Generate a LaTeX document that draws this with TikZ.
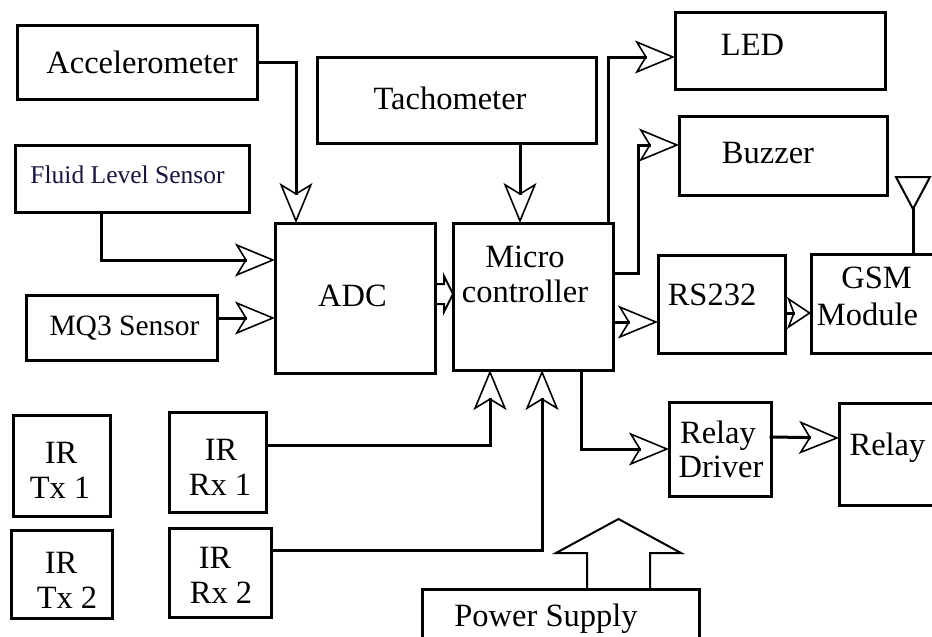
\documentclass[tikz,border=0pt]{standalone}
\usepackage{fontspec}
\setmainfont{Liberation Serif}
\usetikzlibrary{arrows.meta}
\definecolor{fluidtxt}{RGB}{22,22,62}
\begin{document}
\begin{tikzpicture}[x=1pt,y=-1pt,
  box/.style={draw=black, line width=3pt, fill=none, inner sep=0pt, outer sep=0pt, rectangle},
  lbl/.style={anchor=base, inner sep=0pt, outer sep=0pt, font=\fontsize{32.5}{35}\selectfont},
  wire/.style={line width=3pt, line cap=rect},
  arr/.style={wire, -{Stealth[open, length=40pt, width=33pt, inset=10pt, line width=1.6pt]}},
  arrsmall/.style={wire, -{Stealth[open, length=24pt, width=32pt, inset=6pt, line width=1.6pt]}},
  outl/.style={line width=2pt, line join=miter}
]
\useasboundingbox (0,0) rectangle (932,637);
\fill[white] (0,0) rectangle (932,637);

% boxes
\node[box, minimum width=240pt, minimum height=74pt] (acc) at (137,62) {};
\node[box, minimum width=279pt, minimum height=86pt] (tach) at (456.5,100) {};
\node[box, minimum width=234pt, minimum height=67pt] (fluid) at (132,178.5) {};
\node[box, minimum width=191pt, minimum height=65pt] (mq3) at (121.5,327.5) {};
\node[box, minimum width=160pt, minimum height=150pt] (adc) at (355,298) {};
\node[box, minimum width=160pt, minimum height=147pt] (mcu) at (533,296.5) {};
\node[box, minimum width=210pt, minimum height=77pt] (led) at (780,50.5) {};
\node[box, minimum width=208pt, minimum height=79pt] (buz) at (783,155.5) {};
\node[box, minimum width=127pt, minimum height=98pt] (rs) at (721.5,304) {};
\node[box, minimum width=134pt, minimum height=99pt] (gsm) at (878,303.5) {};
\node[box, minimum width=102pt, minimum height=94pt] (rd) at (720,449) {};
\node[box, minimum width=106pt, minimum height=102pt] (relay) at (892,454) {};
\node[box, minimum width=97pt, minimum height=101pt] (tx1) at (61.5,465.5) {};
\node[box, minimum width=101pt, minimum height=88pt] (tx2) at (61.5,574) {};
\node[box, minimum width=97pt, minimum height=100pt] (rx1) at (217.5,462) {};
\node[box, minimum width=102pt, minimum height=89pt] (rx2) at (220,572.5) {};
\node[box, minimum width=277pt, minimum height=71pt] (ps) at (560.5,624.5) {};

% labels
\node[lbl] (tacc) at (142,73) {Accelerometer};
\node[lbl] (ttach) at (450,109) {Tachometer};
\node[lbl, text=fluidtxt, font=\fontsize{25.5}{28}\selectfont] (tfluid) at (127.5,183) {Fluid Level Sensor};
\node[lbl, font=\fontsize{29.5}{32}\selectfont] (tmq3) at (124.5,335) {MQ3 Sensor};
\node[lbl] (tadc) at (352.5,306) {ADC};
\node[lbl] (tmcu1) at (525,267) {Micro};
\node[lbl] (tmcu2) at (525,302) {controller};
\node[lbl] (tled) at (752.5,55) {LED};
\node[lbl] (tbuz) at (768,163) {Buzzer};
\node[lbl] (trs) at (712,305) {RS232};
\node[lbl] (tgsm1) at (876.5,288) {GSM};
\node[lbl] (tgsm2) at (867.5,325) {Module};
\node[lbl] (trd1) at (718,443) {Relay};
\node[lbl] (trd2) at (721,477) {Driver};
\node[lbl] (trelay) at (887.5,455) {Relay};
\node[lbl] (ttx1a) at (61,463) {IR};
\node[lbl] (ttx1b) at (60,498) {Tx 1};
\node[lbl] (ttx2a) at (61,573) {IR};
\node[lbl] (ttx2b) at (67,608) {Tx 2};
\node[lbl] (trx1a) at (221,460) {IR};
\node[lbl] (trx1b) at (220,495) {Rx 1};
\node[lbl] (trx2a) at (215,568) {IR};
\node[lbl] (trx2b) at (221,603) {Rx 2};
\node[lbl] (tps) at (546,626) {Power Supply};

% connectors
\draw[arr] (acc.east) -| ([xshift=-59pt]adc.north);
\draw[arr] ([xshift=-31pt]fluid.south) |- ([yshift=38pt]adc.west);
\draw[arr] ([yshift=9.5pt]mq3.east) -- ([yshift=-20pt]adc.west);
\draw[outl] ([yshift=14pt]adc.east) -- ++(9,0) -- ++(0,-8) -- ([yshift=2.5pt]mcu.west)
  -- ++(-9,18) -- ++(0,-8) -- ++(-9,0);
\draw[arr] ([xshift=63.5pt]tach.south) -- ([xshift=-13pt]mcu.north);
\draw[arr] ([xshift=75pt]mcu.north) |- ([yshift=-6.5pt]led.west);
\draw[arr] ([yshift=23.5pt]mcu.east) -- ++(25,0) |- ([yshift=10.5pt]buz.west);
\draw[arr] ([yshift=-25.5pt]mcu.east) -- ([yshift=-18pt]rs.west);
\draw[arrsmall] ([yshift=-9pt]rs.east) -- ([yshift=-9.5pt]gsm.west);
\draw[arr] ([xshift=48pt]mcu.south) |- (rd.west);
\draw[arr] ([yshift=12pt]rd.east) -- ([yshift=16pt]relay.west);
\draw[arr] ([yshift=17pt]rx1.east) -| ([xshift=-43pt]mcu.south);
\draw[arr] ([yshift=22.5pt]rx2.east) -| ([xshift=9pt]mcu.south);

% antenna
\draw[wire] ([xshift=35pt]gsm.north) -- ++(0,-45) coordinate (ant);
\draw[outl] (ant) -- ++(-17,-32) -- ++(34,0) -- cycle;

% power supply block arrow
\draw[outl] ([xshift=26.5pt]ps.north) -- ++(0,-36) -- ++(-31,0) -- ++(62.5,-34)
  -- ++(62.5,34) -- ++(-31,0) -- ++(0,36);
\end{tikzpicture}
\end{document}
